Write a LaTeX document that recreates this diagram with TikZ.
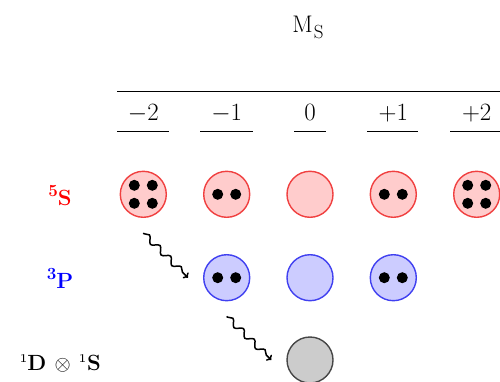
\documentclass[tikz,border=0pt]{standalone}
\usetikzlibrary{decorations.pathmorphing,calc,arrows.meta}
\definecolor{sfill}{RGB}{255,204,204}
\definecolor{sdraw}{RGB}{240,64,64}
\definecolor{pfill}{RGB}{204,204,255}
\definecolor{pdraw}{RGB}{64,64,240}
\definecolor{gfill}{RGB}{204,204,204}
\definecolor{gdraw}{RGB}{70,70,70}
\tikzset{
  orb/.style={circle, minimum size=46pt, inner sep=0pt, line width=1.4pt},
  quint/.style={orb, fill=sfill, draw=sdraw},
  trip/.style={orb, fill=pfill, draw=pdraw},
  sing/.style={orb, fill=gfill, draw=gdraw},
  dot/.style={fill=black},
  rule/.style={line width=0.9pt},
  hdr/.style={font=\fontsize{24}{28}\selectfont, anchor=base},
  rowlab/.style={font=\fontsize{22}{26}\selectfont\bfseries, anchor=base},
  wavy/.style={-{To[length=4pt,width=8pt]}, line width=1.5pt, decorate, decoration={snake, amplitude=3pt, segment length=15pt, pre length=1pt, post length=3pt}}
}
\newcommand{\supnum}[1]{\raisebox{8.5pt}{\fontsize{17}{19}\selectfont\bfseries #1}}
\newcommand{\twodots}[1]{\fill[dot] ($(#1)+(-9,0)$) circle (5.5); \fill[dot] ($(#1)+(9,0)$) circle (5.5);}
\newcommand{\fourdots}[1]{\fill[dot] ($(#1)+(-9,-9)$) circle (5.5); \fill[dot] ($(#1)+(9,-9)$) circle (5.5);\fill[dot] ($(#1)+(-9,9)$) circle (5.5); \fill[dot] ($(#1)+(9,9)$) circle (5.5);}
\begin{document}
\begin{tikzpicture}[x=1pt,y=-1pt]
\useasboundingbox (0,0) rectangle (500,382);
% header
\node[hdr] (ms) at (308,33) {M\kern1pt\raisebox{-6pt}{\fontsize{19}{21}\selectfont S}};
\coordinate (rl) at (117,91.7);
\coordinate (rr) at (500,91.7);
\draw[rule] (rl) -- (rr);
\node[hdr] (hm2) at (143.3,120.7) {$-2$};
\node[hdr] (hm1) at (226.7,120.7) {$-1$};
\node[hdr] (h0) at (310,120.7) {$0$};
\node[hdr] (hp1) at (393.3,120.7) {$+1$};
\node[hdr] (hp2) at (476.7,120.7) {$+2$};
\draw[rule] (117,131) -- (169,131);
\draw[rule] (200,131) -- (253,131);
\draw[rule] (294,131) -- (326,131);
\draw[rule] (367,131) -- (418,131);
\draw[rule] (450,131) -- (500,131);
% row labels
\node[rowlab, text=red] (l5s) at (60,205) {\supnum{5}S};
\node[rowlab, text=blue] (l3p) at (60,288) {\supnum{3}P};
\node[rowlab] (l1d) at (60,370.7) {\supnum{\oldstylenums{1}}D $\otimes$ \supnum{\oldstylenums{1}}S};
% quintet
\node[quint] (q1) at (143.3,194.3) {};
\node[quint] (q2) at (226.7,194.3) {};
\node[quint] (q3) at (310,194.3) {};
\node[quint] (q4) at (393.3,194.3) {};
\node[quint] (q5) at (476.7,194.3) {};
\fourdots{q1}
\twodots{q2}
\twodots{q4}
\fourdots{q5}
% triplet
\node[trip] (t1) at (226.7,277.7) {};
\node[trip] (t2) at (310,277.7) {};
\node[trip] (t3) at (393.3,277.7) {};
\twodots{t1}
\twodots{t3}
% singlet
\node[sing] (s1) at (310,360) {};
% wavy arrows
\draw[wavy] ($(q1.south)+(0,15)$) -- ($(t1.west)+(-15,0)$);
\draw[wavy] ($(t1.south)+(0,15)$) -- ($(s1.west)+(-15,0)$);
\end{tikzpicture}
\end{document}
